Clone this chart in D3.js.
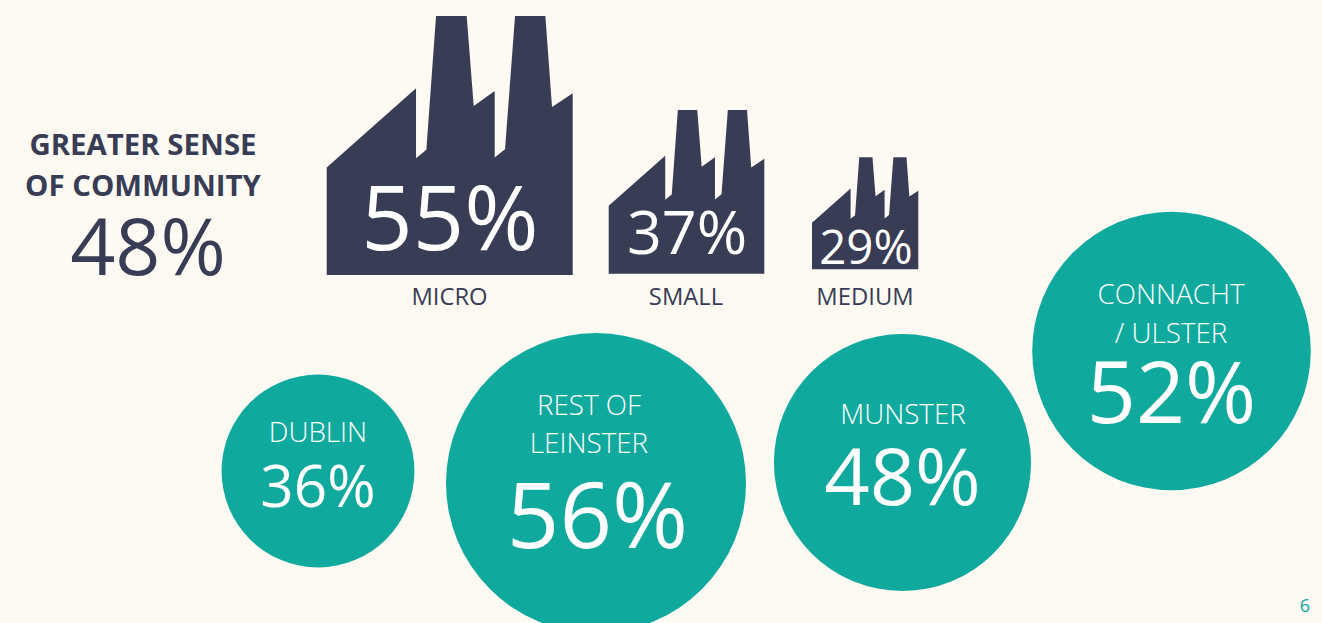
<!DOCTYPE html>
<html><head><meta charset="utf-8">
<script src="https://cdn.jsdelivr.net/npm/d3@7"></script>
<style>
html,body{margin:0;padding:0;background:#fdfaf3;overflow:hidden}
text{font-family:"Open Sans",sans-serif}
</style></head><body><svg id="c" width="1322" height="623"></svg>
<script>
const sizeCategories = ["MICRO","SMALL","MEDIUM"];
const sizeValues = [55,37,29];
const regionCategories = [["DUBLIN"],["REST OF","LEINSTER"],["MUNSTER"],["CONNACHT","/ ULSTER"]];
const regionValues = [36,56,48,52];
const overallLabel = ["GREATER SENSE","OF COMMUNITY"];
const overallValue = 48;
const pageNumber = "6";

const NAVY="#383c54", TEAL="#10a99d";
const svg=d3.select("#c");
const pct=v=>v+"%";

// heading
const head=svg.append("g");
overallLabel.forEach((t,i)=>head.append("text").attr("x",143).attr("y",155+i*41).attr("text-anchor","middle")
  .attr("font-size",29.4).attr("font-weight",700).attr("fill",NAVY).text(t));
head.append("text").attr("x",148).attr("y",275).attr("text-anchor","middle").attr("font-size",79).attr("fill",NAVY).text(pct(overallValue));

// factories
const fx=d3.scaleLinear().domain([0,738]), fy=d3.scaleLinear().domain([0,778]);
const outline=[[0,778],[0,455],[268,217],[268,427],[299,402],[328,0],[420,0],[441,270],[504,225],[504,425],[535,400],[565,0],[656,0],[676,273],[738,232],[738,778]];
const widthScale=d3.scaleLinear().domain([29,37,55]).range([106.3,155.6,246]);
const heightScale=d3.scaleLinear().domain([29,37,55]).range([112,163.7,259]);
const factoryLeft=[326.7,608.7,812], factoryBottom=[275,273.7,269.3];
const factoryFont=[90,61,47.5], factoryBase=[250,254,264], labelBase=[305,305,305];
const line=d3.line();
sizeValues.forEach((v,i)=>{
  const w=widthScale(v),h=heightScale(v),x0=factoryLeft[i],y0=factoryBottom[i]-h;
  const x=fx.copy().range([x0,x0+w]), y=fy.copy().range([y0,y0+h]);
  svg.append("path").attr("d",line(outline.map(p=>[x(p[0]),y(p[1])]))+"Z").attr("fill",NAVY);
  svg.append("text").attr("x",[450,687,866][i]).attr("y",factoryBase[i]).attr("text-anchor","middle").attr("font-size",factoryFont[i]).attr("fill","#fff").text(pct(v));
  svg.append("text").attr("x",[449.5,686,865][i]).attr("y",labelBase[i]).attr("text-anchor","middle").attr("font-size",23.8).attr("fill",NAVY).text(sizeCategories[i]);
});

// region circles
const r=d3.scaleLinear().domain([0,56]).range([0,150]);
const centers=[[318,471],[596,483],[902.5,462.5],[1171.5,351]];
const labelY=[[442],[415,453],[424],[304,343]];
const valueY=[507,548,505,423];
const valueF=[58.5,92,79.5,86];
regionValues.forEach((v,i)=>{
  svg.append("circle").attr("cx",centers[i][0]).attr("cy",centers[i][1]).attr("r",r(v)).attr("fill",TEAL);
  regionCategories[i].forEach((t,j)=>svg.append("text").attr("x",[318,589,903,1171][i]).attr("y",labelY[i][j]).attr("text-anchor","middle")
    .attr("font-size",27.8).attr("font-weight",300).attr("fill","#fff").text(t));
  svg.append("text").attr("x",[318,597.5,902.5,1171.5][i]).attr("y",valueY[i]).attr("text-anchor","middle").attr("font-size",valueF[i]).attr("fill","#fff").text(pct(v));
});
svg.append("text").attr("x",1305).attr("y",612).attr("text-anchor","middle").attr("font-size",18).attr("fill",TEAL).text(pageNumber);
</script></body></html>
